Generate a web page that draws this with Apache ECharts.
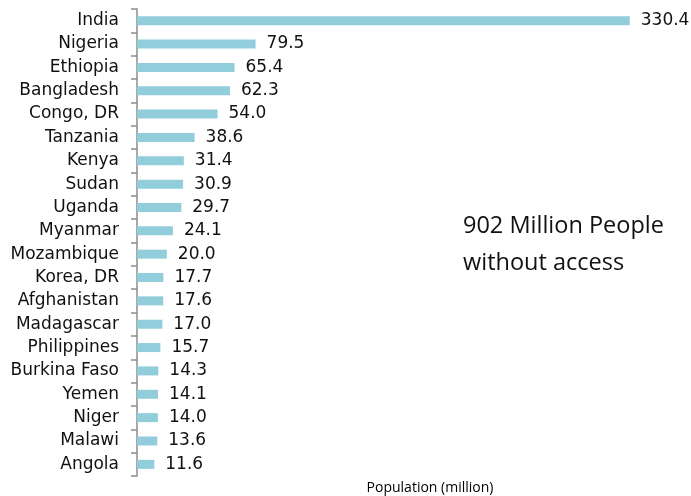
<!DOCTYPE html>
<html>
<head>
<meta charset="utf-8">
<script src="https://cdn.jsdelivr.net/npm/echarts@6/dist/echarts.min.js"></script>
<style>
  html, body { margin: 0; padding: 0; background: #fff; }
  #chart { width: 691px; height: 496px; }
</style>
</head>
<body>
<div id="chart"></div>
<script>
// Countries with the largest populations lacking electricity access
const countries = ['India', 'Nigeria', 'Ethiopia', 'Bangladesh', 'Congo, DR', 'Tanzania', 'Kenya',
  'Sudan', 'Uganda', 'Myanmar', 'Mozambique', 'Korea, DR', 'Afghanistan', 'Madagascar',
  'Philippines', 'Burkina Faso', 'Yemen', 'Niger', 'Malawi', 'Angola'];
const population = [330.4, 79.5, 65.4, 62.3, 54.0, 38.6, 31.4, 30.9, 29.7, 24.1, 20.0,
  17.7, 17.6, 17.0, 15.7, 14.3, 14.1, 14.0, 13.6, 11.6];
const axisTitle = 'Population (million)';
const noteLines = ['902 Million People', 'without access'];

const chart = echarts.init(document.getElementById('chart'));
chart.setOption({
  animation: false,
  grid: { left: 137, top: 9, width: 522, height: 467, containLabel: false, outerBoundsMode: 'none' },
  xAxis: {
    type: 'value', min: 0, max: 350,
    axisLine: { show: false }, axisTick: { show: false }, axisLabel: { show: false },
    splitLine: { show: false }
  },
  yAxis: {
    type: 'category', data: countries, inverse: true,
    axisLine: { show: true, lineStyle: { color: '#8c8c8c', width: 1.5 } },
    axisTick: { show: true, length: 6, lineStyle: { color: '#8c8c8c', width: 1.5 } },
    axisLabel: { margin: 18, fontFamily: 'DejaVu Sans', fontSize: 17, color: '#111' }
  },
  series: [{
    type: 'bar', data: population, barWidth: 9,
    itemStyle: { color: '#92CDDC' },
    label: {
      show: true, position: 'right', distance: 11,
      formatter: p => p.value.toFixed(1),
      fontFamily: 'DejaVu Sans', fontSize: 17, color: '#111'
    }
  }],
  graphic: [{
    type: 'text', left: 463, top: 208,
    style: { text: noteLines.join('\n'), fontFamily: 'Open Sans', fontSize: 23.5, lineHeight: 37, fill: '#111' }
  }, {
    type: 'text', x: 430, y: 488,
    style: { text: axisTitle, fontFamily: 'Open Sans', fontSize: 14, fill: '#000', align: 'center', verticalAlign: 'middle' }
  }]
});
</script>
</body>
</html>
